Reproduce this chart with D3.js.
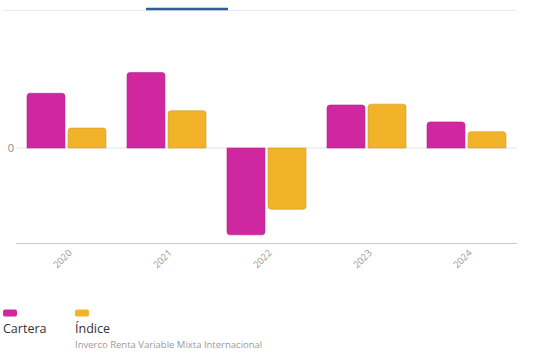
<!DOCTYPE html>
<html><head><meta charset="utf-8">
<script src="https://cdn.jsdelivr.net/npm/d3@7"></script>
<style>body{margin:0;background:#fff;}svg{display:block;font-family:"Open Sans",sans-serif;}</style>
</head><body><svg id="c" width="540" height="363"></svg>
<script>
const years = ["2020","2021","2022","2023","2024"];
const cartera = [12.6, 17.4, -20.0, 9.9, 6.0];
const indice = [4.6, 8.6, -14.1, 10.1, 3.75];
const seriesNames = ["Cartera","Índice"];
const seriesColors = ["#CF279F","#F2B32A"];
const yTicks = [0];
const legendSub = "Inverco Renta Variable Mixta Internacional";

const svg = d3.select("#c");
// top tab line
svg.append("line").attr("x1",3).attr("x2",516).attr("y1",10.5).attr("y2",10.5).attr("stroke","#ebebeb").attr("stroke-width",1);
svg.append("line").attr("x1",146).attr("x2",228).attr("y1",9).attr("y2",9).attr("stroke","#2f5e9e").attr("stroke-width",2.5);

const x = d3.scaleBand().domain(years).range([16.5,516.5]).paddingInner(0.21).paddingOuter(0.105);
const xs = d3.scaleBand().domain(seriesNames).range([0,x.bandwidth()]).paddingInner(0.075);
const y = d3.scaleLinear().domain([-22, 0]).range([243.5, 148]);

// zero grid
svg.append("g").selectAll("line").data(yTicks).join("line")
  .attr("x1",16).attr("x2",517).attr("y1",d=>y(d)).attr("y2",d=>y(d)).attr("stroke","#e3e3e3");
svg.append("g").selectAll("text").data(yTicks).join("text")
  .attr("x",14).attr("y",d=>y(d)+4).attr("text-anchor","end").attr("fill","#8a8a8a").attr("font-size",11).text(d=>d);

function barPath(x0,w,v){
  const y0=y(0), y1=y(v), r=3;
  if(v>=0){
    return `M${x0},${y0}V${y1+r}Q${x0},${y1} ${x0+r},${y1}H${x0+w-r}Q${x0+w},${y1} ${x0+w},${y1+r}V${y0}Z`;
  } else {
    return `M${x0},${y0}V${y1-r}Q${x0},${y1} ${x0+r},${y1}H${x0+w-r}Q${x0+w},${y1} ${x0+w},${y1-r}V${y0}Z`;
  }
}
const data = [cartera, indice];
data.forEach((vals,si)=>{
  svg.append("g").selectAll("path").data(vals).join("path")
    .attr("d",(v,i)=>barPath(x(years[i])+xs(seriesNames[si]), xs.bandwidth(), v))
    .attr("fill",seriesColors[si])
    .attr("stroke",d3.color(seriesColors[si]).darker(0.4)).attr("stroke-width",0.6);
});

// bottom axis
const xAxis = d3.axisBottom(x).tickSize(0).tickPadding(0);
const gx = svg.append("g").attr("transform","translate(0,243.5)").call(xAxis);
gx.select(".domain").attr("d","M16,0H517").attr("stroke","#c8c8c8");
gx.selectAll("text").attr("font-family","Open Sans").attr("font-size",9.5).attr("fill","#999")
  .attr("text-anchor","end").attr("dy",0)
  .attr("transform",function(d){return `translate(6,10) rotate(-45)`;});

// legend
const lg = svg.append("g");
const lx = [3,75];
seriesNames.forEach((n,i)=>{
  lg.append("rect").attr("x",lx[i]).attr("y",309.5).attr("width",14).attr("height",7).attr("rx",2).attr("fill",seriesColors[i]);
  lg.append("text").attr("x",lx[i]).attr("y",333).attr("font-size",12.5).attr("fill","#333").text(n);
});
lg.append("text").attr("x",75).attr("y",348).attr("font-size",9.5).attr("fill","#9a9a9a").text(legendSub);
</script></body></html>
